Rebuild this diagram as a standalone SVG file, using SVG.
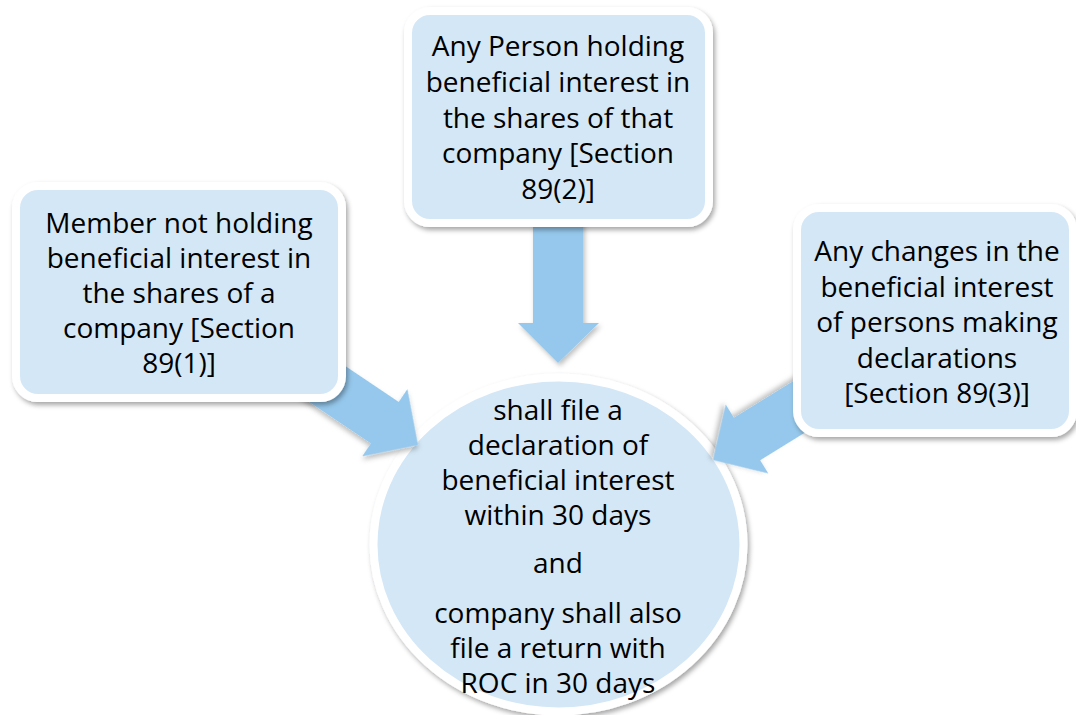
<svg xmlns="http://www.w3.org/2000/svg" width="1076" height="715" viewBox="0 0 1076 715">
<defs>
<filter id="sh" x="-10%" y="-10%" width="125%" height="125%">
<feDropShadow dx="2" dy="3" stdDeviation="2.5" flood-color="#000" flood-opacity="0.35"/>
</filter>
<filter id="ash" x="-20%" y="-20%" width="140%" height="140%">
<feDropShadow dx="2" dy="3" stdDeviation="2.5" flood-color="#000" flood-opacity="0.25"/>
</filter>
<polygon id="arr" points="-200,-25 -40,-25 -40,-40.5 0,0 -40,40.5 -40,25 -200,25"/>
</defs>
<style>
.box{fill:#d4e7f6;stroke:#fff;stroke-width:8;filter:url(#sh)}
.ar{fill:#95c8ec;filter:url(#ash)}
text{font-family:"Open Sans","Noto Sans","Liberation Sans",sans-serif;font-size:28px;fill:#000;text-anchor:middle}
</style>
<rect width="1076" height="715" fill="#fff"/>
<g id="result">
<ellipse class="box" cx="558.5" cy="544.5" rx="185" ry="167"/>
<text x="558" y="420">shall file a</text>
<text x="558" y="455">declaration of</text>
<text x="558" y="490">beneficial interest</text>
<text x="558" y="525">within 30 days</text>
<text x="558" y="573">and</text>
<text x="558" y="623">company shall also</text>
<text x="558" y="658">file a return with</text>
<text x="558" y="693">ROC in 30 days</text>
</g>
<g id="connectors">
<polygon class="ar" points="533,200 583,200 583,323 599,323 558,363 518,323 533,323"/>
<use href="#arr" class="ar" transform="translate(418,445) rotate(33.9)"/>
<use href="#arr" class="ar" transform="translate(713,460) rotate(148.3)"/>
</g>
<g id="s891">
<rect class="box" x="16" y="186" width="326" height="212" rx="22"/>
<text x="179" y="233">Member not holding</text>
<text x="179" y="268">beneficial interest in</text>
<text x="179" y="303">the shares of a</text>
<text x="179" y="338">company [Section</text>
<text x="179" y="373">89(1)]</text>
</g>
<g id="s892">
<rect class="box" x="408" y="11" width="301" height="212" rx="22"/>
<text x="558" y="56">Any Person holding</text>
<text x="558" y="92">beneficial interest in</text>
<text x="558" y="128">the shares of that</text>
<text x="558" y="163">company [Section</text>
<text x="558" y="199">89(2)]</text>
</g>
<g id="s893">
<rect class="box" x="797" y="208" width="276" height="225" rx="22"/>
<text x="937" y="261">Any changes in the</text>
<text x="937" y="296.5">beneficial interest</text>
<text x="937" y="332">of persons making</text>
<text x="937" y="367.5">declarations</text>
<text x="937" y="403">[Section 89(3)]</text>
</g>
</svg>
